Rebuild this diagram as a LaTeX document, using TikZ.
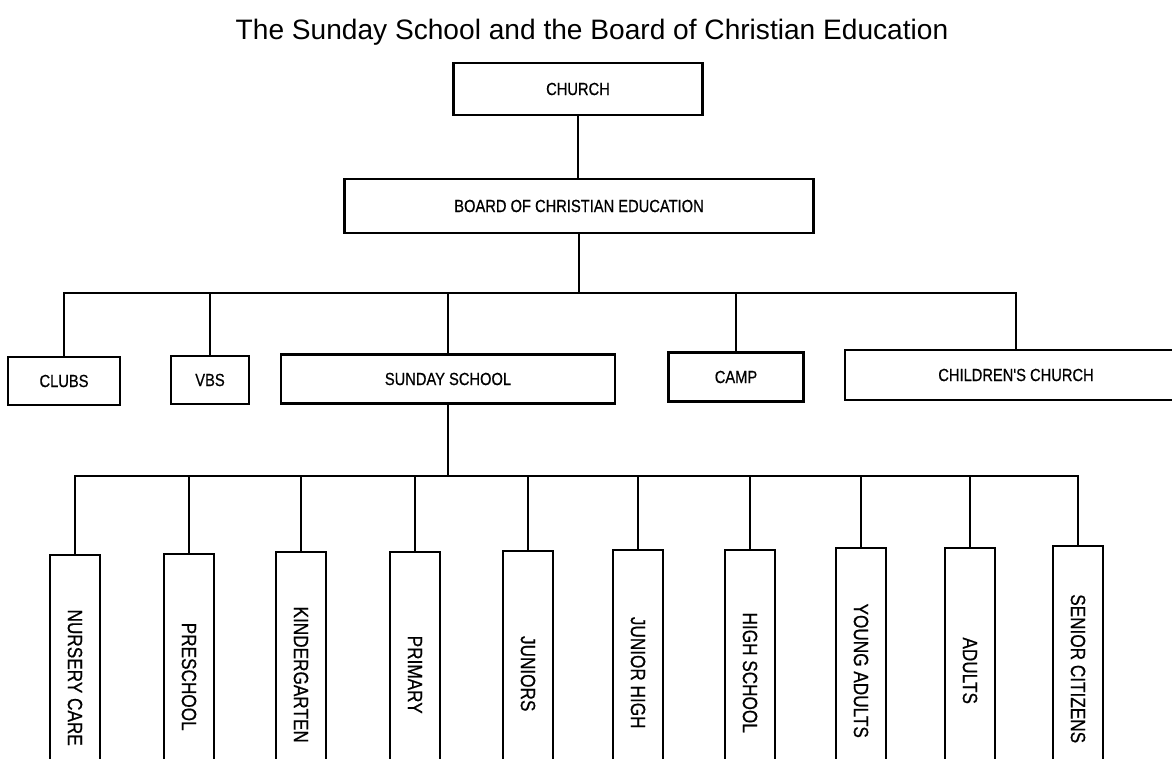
\documentclass[tikz,border=0pt]{standalone}
\usepackage{fontspec}
\setmainfont{Liberation Sans}
\newfontfamily\boxfont[FakeStretch=0.836, FakeBold=0.6]{Liberation Sans}
\usepackage{tikz}

\begin{document}
\begin{tikzpicture}[
    x=0.02cm, y=-0.02cm,
    unit/.style={rectangle, draw, line width=1.4pt, inner sep=0pt, font=\boxfont\fontsize{10}{12}\selectfont},
    grade/.style={unit, rotate=-90, anchor=west, minimum width=4.9cm, minimum height=1cm, font=\boxfont\fontsize{11.7}{14}\selectfont},
    link/.style={line width=1.2pt},
]
\useasboundingbox (0,0) rectangle (1172,759);

\node[font=\fontsize{16}{19}\selectfont] (title) at (592,32) {The Sunday School and the Board of Christian Education};

\node[unit, minimum width=4.98cm, minimum height=1.04cm] (church) at (578,89) {CHURCH};
\node[unit, minimum width=9.38cm, minimum height=1.08cm] (board) at (579,206) {BOARD OF CHRISTIAN EDUCATION};

\node[unit, minimum width=2.24cm, minimum height=0.96cm] (clubs) at (64,381) {CLUBS};
\node[unit, minimum width=1.56cm, minimum height=0.96cm] (vbs) at (210,380) {VBS};
\node[unit, minimum width=6.68cm, minimum height=0.98cm] (sunday) at (448,379) {SUNDAY SCHOOL};
\node[unit, minimum width=2.7cm, minimum height=0.98cm] (camp) at (736,377) {CAMP};
\node[unit, minimum width=6.84cm, minimum height=1cm] (kidschurch) at (1016,375) {CHILDREN'S CHURCH};

\node[grade] (nursery) at (75,554) {NURSERY CARE};
\node[grade] (preschool) at (189,553) {PRESCHOOL};
\node[grade] (kinder) at (301,551) {KINDERGARTEN};
\node[grade] (primary) at (415,551) {PRIMARY};
\node[grade] (juniors) at (528,550) {JUNIORS};
\node[grade] (juniorhigh) at (638,549) {JUNIOR HIGH};
\node[grade] (highschool) at (750,549) {HIGH SCHOOL};
\node[grade] (youngadults) at (861,547) {YOUNG ADULTS};
\node[grade] (adults) at (970,547) {ADULTS};
\node[grade] (seniors) at (1078,545) {SENIOR CITIZENS};

\draw[link] (church.south) -- (church.south |- board.north);
\draw[link] (board.south) -- ++(0,59) coordinate (hub);
\draw[link] (hub) -| (clubs);
\draw[link] (hub) -| (vbs);
\draw[link] (hub) -| (sunday);
\draw[link] (hub) -| (camp);
\draw[link] (hub) -| (kidschurch);

\draw[link] (sunday.south) -- ++(0,71) coordinate (fork);
\draw[link] (fork) -| (nursery);
\draw[link] (fork) -| (preschool);
\draw[link] (fork) -| (kinder);
\draw[link] (fork) -| (primary);
\draw[link] (fork) -| (juniors);
\draw[link] (fork) -| (juniorhigh);
\draw[link] (fork) -| (highschool);
\draw[link] (fork) -| (youngadults);
\draw[link] (fork) -| (adults);
\draw[link] (fork) -| (seniors);

\end{tikzpicture}
\end{document}
